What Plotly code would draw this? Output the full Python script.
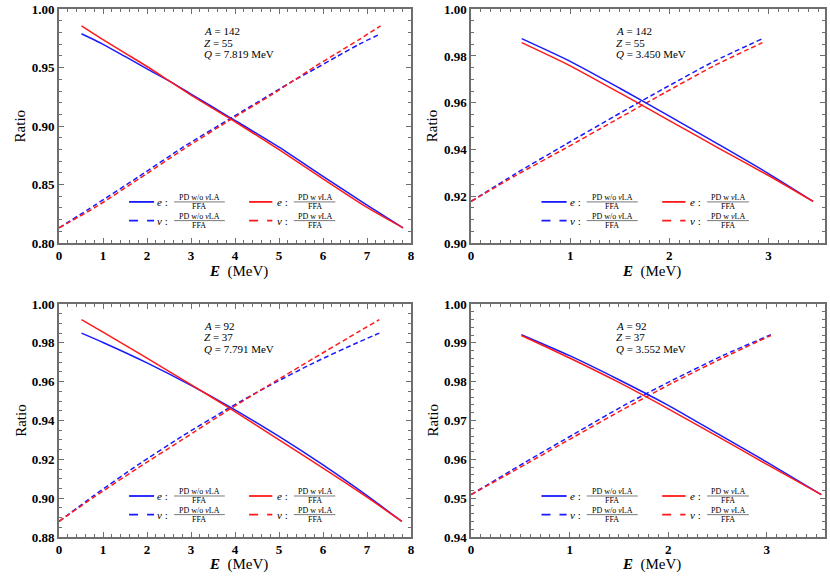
import plotly.graph_objects as go

# ---------------- data ----------------
# Panel 1: A=142, Z=55, Q=7.819 MeV
p1_e_E = [0.511, 1.0, 1.5, 2.0, 2.5, 3.0, 3.86, 5.0, 6.0, 7.0, 7.819]
p1_e_wo = [0.979, 0.970, 0.9596, 0.949, 0.9387, 0.9274, 0.908, 0.882, 0.857, 0.8325, 0.813]
p1_e_w = [0.9858, 0.974, 0.9625, 0.951, 0.9387, 0.9265, 0.907, 0.880, 0.855, 0.8305, 0.813]
p1_nu_E = [0.0, 0.819, 1.819, 2.819, 3.959, 4.819, 5.319, 5.819, 6.319, 6.819, 7.308]
p1_nu_wo = [0.813, 0.8325, 0.857, 0.882, 0.908, 0.9274, 0.9387, 0.949, 0.9596, 0.970, 0.979]
p1_nu_w = [0.813, 0.8305, 0.855, 0.880, 0.907, 0.9265, 0.9387, 0.951, 0.9625, 0.974, 0.9858]

# Panel 2: A=142, Z=55, Q=3.450 MeV
p2_e_E = [0.511, 1.0, 1.5, 2.0, 2.5, 3.0, 3.45]
p2_e_wo = [0.9874, 0.9777, 0.9662, 0.9543, 0.9421, 0.9297, 0.9178]
p2_e_w = [0.9857, 0.9758, 0.9642, 0.9524, 0.9405, 0.9289, 0.9178]
p2_nu_E = [0.0, 0.45, 0.95, 1.45, 1.95, 2.45, 2.939]
p2_nu_wo = [0.9178, 0.9297, 0.9421, 0.9543, 0.9662, 0.9777, 0.9874]
p2_nu_w = [0.9178, 0.9289, 0.9405, 0.9524, 0.9642, 0.9758, 0.9857]

# Panel 3: A=92, Z=37, Q=7.791 MeV
p3_e_E = [0.511, 1.0, 2.0, 3.0, 3.9, 5.0, 6.0, 7.0, 7.791]
p3_e_wo = [0.985, 0.9802, 0.9697, 0.9581, 0.9468, 0.9318, 0.9171, 0.9013, 0.888]
p3_e_w = [0.992, 0.9855, 0.9721, 0.9585, 0.946, 0.930, 0.9155, 0.9005, 0.888]
p3_nu_E = [0.0, 0.791, 1.791, 2.791, 3.891, 4.791, 5.791, 6.791, 7.28]
p3_nu_wo = [0.888, 0.9013, 0.9171, 0.9318, 0.9468, 0.9581, 0.9697, 0.9802, 0.985]
p3_nu_w = [0.888, 0.9005, 0.9155, 0.930, 0.946, 0.9585, 0.9721, 0.9855, 0.992]

# Panel 4: A=92, Z=37, Q=3.552 MeV
p4_e_E = [0.511, 1.0, 1.5, 2.0, 2.5, 3.0, 3.552]
p4_e_wo = [0.9921, 0.9867, 0.9805, 0.9739, 0.9666, 0.9593, 0.9509]
p4_e_w = [0.9919, 0.9861, 0.9798, 0.9730, 0.9659, 0.9587, 0.9509]
p4_nu_E = [0.0, 0.552, 1.052, 1.552, 2.052, 2.552, 3.041]
p4_nu_wo = [0.9509, 0.9593, 0.9666, 0.9739, 0.9805, 0.9867, 0.9921]
p4_nu_w = [0.9509, 0.9587, 0.9659, 0.9730, 0.9798, 0.9861, 0.9919]

panel_A = ["142", "142", "92", "92"]
panel_Z = ["55", "55", "37", "37"]
panel_Q = ["7.819", "3.450", "7.791", "3.552"]

x_ranges = [[0, 8], [0, 3.57], [0, 8], [0, 3.59]]
y_ranges = [[0.80, 1.00], [0.90, 1.00], [0.88, 1.00], [0.94, 1.00]]
y_dticks = [0.05, 0.02, 0.02, 0.01]
y_minor = [0.01, 0.005, 0.005, 0.002]
x_minor = [0.2, 0.1, 0.2, 0.1]

legend_num = ["PD w/o <i>ν</i>LA", "PD w <i>ν</i>LA"]
legend_den = "FFA"

# ---------------- figure ----------------
BLUE = "#1a1aff"
RED = "#ff1a1a"
SERIF = "'Liberation Serif', 'Times New Roman', serif"
FRAME = "#6e6e6e"

xdoms = [[0.0711, 0.4952], [0.5675, 0.994], [0.0711, 0.4952], [0.5675, 0.994]]
ydoms = [[0.578, 0.984], [0.578, 0.984], [0.0677, 0.4722], [0.0677, 0.4722]]

panels = [
    (p1_e_E, p1_e_wo, p1_e_w, p1_nu_E, p1_nu_wo, p1_nu_w),
    (p2_e_E, p2_e_wo, p2_e_w, p2_nu_E, p2_nu_wo, p2_nu_w),
    (p3_e_E, p3_e_wo, p3_e_w, p3_nu_E, p3_nu_wo, p3_nu_w),
    (p4_e_E, p4_e_wo, p4_e_w, p4_nu_E, p4_nu_wo, p4_nu_w),
]

fig = go.Figure()
annotations = []
shapes = []

for i, (eE, ewo, ew, nE, nwo, nw) in enumerate(panels):
    k = "" if i == 0 else str(i + 1)
    xa, ya = "x" + k, "y" + k
    common = dict(xaxis=xa, yaxis=ya, mode="lines", showlegend=False, hoverinfo="skip")
    sm = 0.6
    fig.add_trace(go.Scatter(x=nE, y=nwo, line=dict(color=BLUE, width=1.5, dash="5px,3px", shape="spline", smoothing=sm), **common))
    fig.add_trace(go.Scatter(x=nE, y=nw, line=dict(color=RED, width=1.5, dash="5px,3px", shape="spline", smoothing=sm), **common))
    fig.add_trace(go.Scatter(x=eE, y=ewo, line=dict(color=BLUE, width=1.5, shape="spline", smoothing=sm), **common))
    fig.add_trace(go.Scatter(x=eE, y=ew, line=dict(color=RED, width=1.5, shape="spline", smoothing=sm), **common))

    axis_common = dict(
        showline=True, linecolor=FRAME, linewidth=1.6, mirror="ticks",
        ticks="inside", ticklen=5, tickwidth=1, tickcolor=FRAME,
        showgrid=False, zeroline=False, automargin=False,
        tickfont=dict(family=SERIF, size=13, color="black", weight="bold"),
    )
    fig.layout["xaxis" + k] = dict(
        axis_common, domain=xdoms[i], range=x_ranges[i], dtick=1, tick0=0,
        anchor=ya, minor=dict(ticks="inside", ticklen=3, dtick=x_minor[i], tickcolor=FRAME, tickwidth=1),
    )
    fig.layout["yaxis" + k] = dict(
        axis_common, domain=ydoms[i], range=y_ranges[i], dtick=y_dticks[i], tick0=0,
        tickformat=".2f", anchor=xa,
        minor=dict(ticks="inside", ticklen=3, dtick=y_minor[i], tickcolor=FRAME, tickwidth=1),
    )

    xr = xa + " domain"
    yr = ya + " domain"
    # axis titles
    annotations.append(dict(xref=xr, yref=yr, x=-0.11, y=0.5, text="Ratio", textangle=-90,
                            showarrow=False, font=dict(family=SERIF, size=15, color="black"),
                            xanchor="center", yanchor="middle"))
    annotations.append(dict(xref=xr, yref=yr, x=0.51, y=-0.12, text="<b><i>E</i></b>  (MeV)",
                            showarrow=False, font=dict(family=SERIF, size=15, color="black"),
                            xanchor="center", yanchor="middle"))
    # info text
    info = [f"<i>A</i> = {panel_A[i]}", f"<i>Z</i> = {panel_Z[i]}", f"<i>Q</i> = {panel_Q[i]} MeV"]
    for j, t in enumerate(info):
        annotations.append(dict(xref=xr, yref=yr, x=0.405, y=0.905 - 0.048 * j, text=t,
                                showarrow=False, font=dict(family=SERIF, size=11, color="black"),
                                xanchor="left", yanchor="middle"))
    # legend (2 x 2)
    cols = [(0.199, 0.27, 0.295, 0.399, 0.327, 0.471, BLUE, legend_num[0]),
            (0.54, 0.606, 0.635, 0.726, 0.667, 0.785, RED, legend_num[1])]
    rows = [(0.176, "solid", "<i>e</i> :"), (0.096, "dash", "<i>ν</i> :")]
    for (sx0, sx1, lx, fx, bx0, bx1, col, num) in cols:
        for (yy, dash, lab) in rows:
            shapes.append(dict(type="line", xref=xr, yref=yr, x0=sx0, x1=sx1, y0=yy, y1=yy,
                               line=dict(color=col, width=1.8, dash=dash)))
            annotations.append(dict(xref=xr, yref=yr, x=lx, y=yy, text=lab, showarrow=False,
                                    font=dict(family=SERIF, size=11, color="black"),
                                    xanchor="center", yanchor="middle"))
            shapes.append(dict(type="line", xref=xr, yref=yr, x0=bx0, x1=bx1, y0=yy, y1=yy,
                               line=dict(color="#555555", width=0.8)))
            annotations.append(dict(xref=xr, yref=yr, x=fx, y=yy + 0.019, text=num, showarrow=False,
                                    font=dict(family=SERIF, size=8, color="black"),
                                    xanchor="center", yanchor="middle", borderpad=0))
            annotations.append(dict(xref=xr, yref=yr, x=fx, y=yy - 0.02, text=legend_den, showarrow=False,
                                    font=dict(family=SERIF, size=8, color="black"),
                                    xanchor="center", yanchor="middle", borderpad=0))

fig.update_layout(
    width=830, height=576,
    margin=dict(l=0, r=0, t=0, b=0, pad=0, autoexpand=False),
    paper_bgcolor="white", plot_bgcolor="white",
    annotations=annotations, shapes=shapes,
    showlegend=False,
)

fig.write_html("out.html", config={"displayModeBar": False},
               post_script="document.body.style.margin='0';document.body.style.overflow='hidden';")
